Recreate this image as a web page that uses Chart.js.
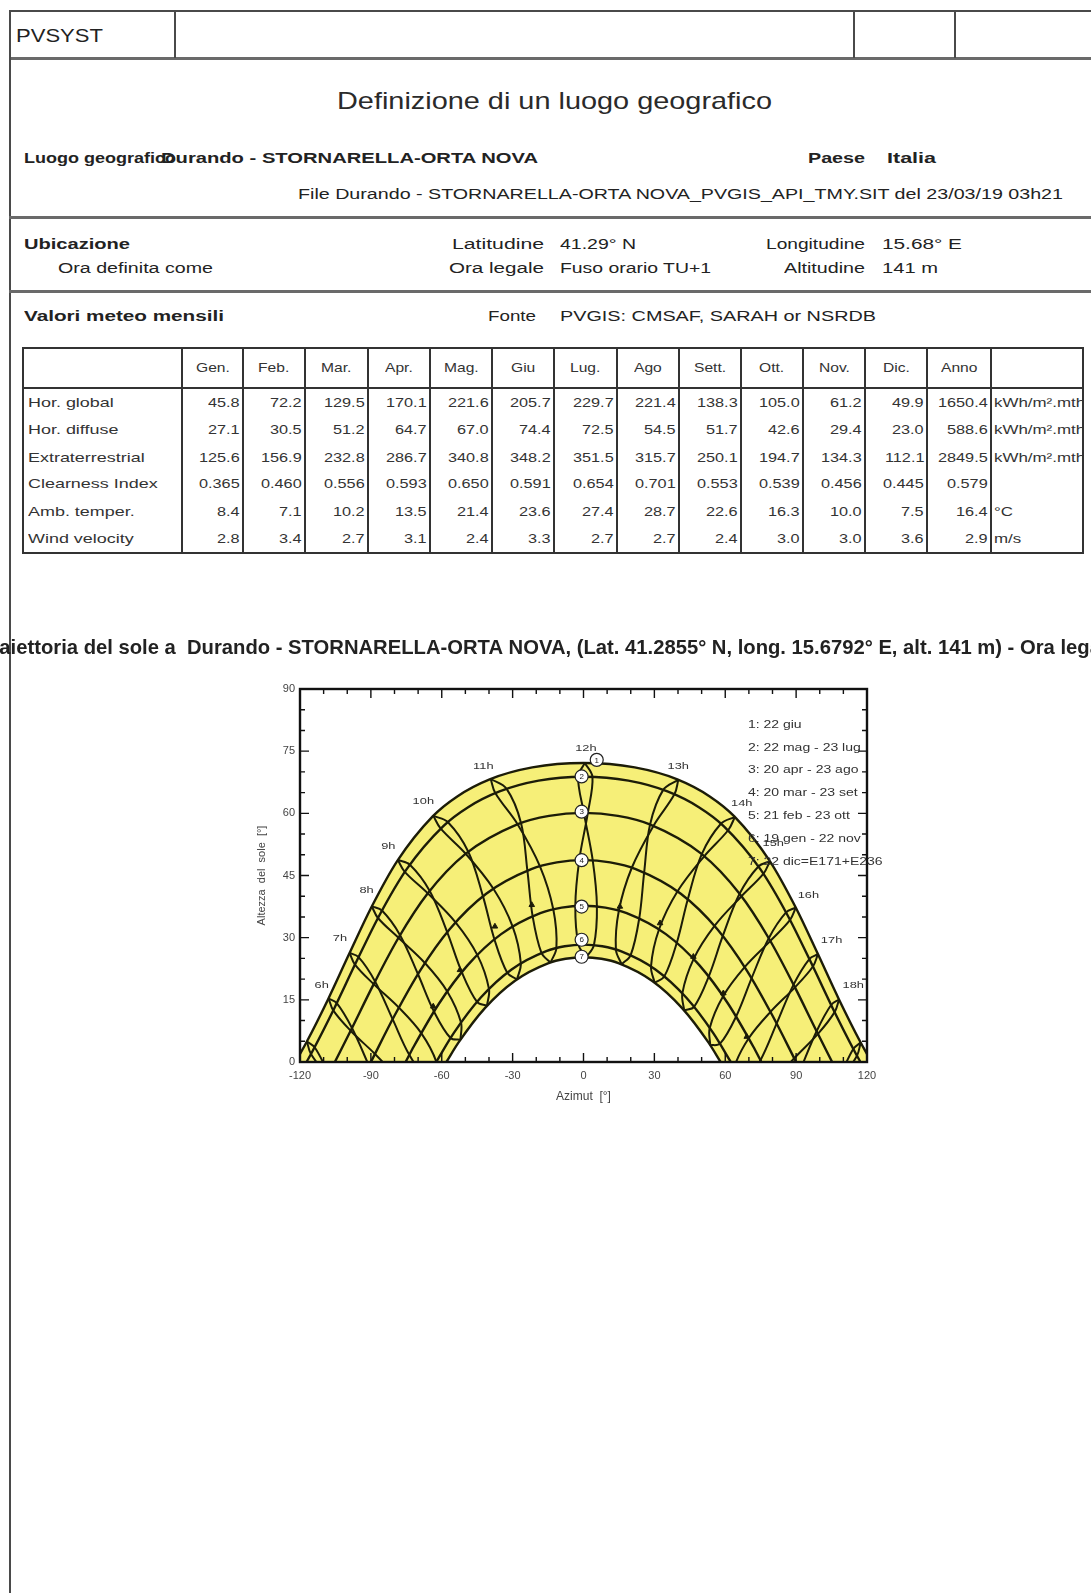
<!DOCTYPE html>
<html lang="it">
<head>
<meta charset="utf-8">
<title>PVSYST - Definizione di un luogo geografico</title>
<script src="https://cdn.jsdelivr.net/npm/chart.js@4.4.1/dist/chart.umd.min.js"></script>
<style>
  html, body { margin: 0; padding: 0; background: #fff; }
  body { width: 1091px; height: 1593px; position: relative; overflow: hidden;
         font-family: "Liberation Sans", Arial, sans-serif; color: #222; }
  .t { position: absolute; white-space: nowrap; line-height: 1; transform-origin: 0 50%; }
  .ln { position: absolute; }
  .clip { position: absolute; overflow: hidden; }
  #chartBox { position: absolute; left: -21px; top: 620px; width: 1140px; height: 500px; }
</style>
</head>
<body>
<div id="page"></div>
<div id="chartBox"><canvas id="solarChart" width="1140" height="500"></canvas></div>
<script>
// Valori meteo mensili
const mesi = ['Gen.', 'Feb.', 'Mar.', 'Apr.', 'Mag.', 'Giu', 'Lug.', 'Ago', 'Sett.', 'Ott.', 'Nov.', 'Dic.', 'Anno'];
const horGlobal = [45.8, 72.2, 129.5, 170.1, 221.6, 205.7, 229.7, 221.4, 138.3, 105.0, 61.2, 49.9, 1650.4];
const horDiffuse = [27.1, 30.5, 51.2, 64.7, 67.0, 74.4, 72.5, 54.5, 51.7, 42.6, 29.4, 23.0, 588.6];
const extraterrestrial = [125.6, 156.9, 232.8, 286.7, 340.8, 348.2, 351.5, 315.7, 250.1, 194.7, 134.3, 112.1, 2849.5];
const clearness = [0.365, 0.460, 0.556, 0.593, 0.650, 0.591, 0.654, 0.701, 0.553, 0.539, 0.456, 0.445, 0.579];
const ambTemper = [8.4, 7.1, 10.2, 13.5, 21.4, 23.6, 27.4, 28.7, 22.6, 16.3, 10.0, 7.5, 16.4];
const windVelocity = [2.8, 3.4, 2.7, 3.1, 2.4, 3.3, 2.7, 2.7, 2.4, 3.0, 3.0, 3.6, 2.9];

// Traiettoria del sole: archi giornalieri [azimut, altezza]
const arco1 = [[-121.9, 0], [-117.2, 4.82], [-108.04, 15.22], [-99.12, 26.16], [-89.73, 37.39], [-78.74, 48.59], [-63.84, 59.27], [-53.43, 64.09], [-39.71, 68.2], [-21.68, 71.08], [0, 72.16],
  [21.68, 71.08], [39.71, 68.2], [53.43, 64.09], [63.84, 59.27], [78.74, 48.59], [89.73, 37.39], [99.12, 26.16], [108.04, 15.22], [117.2, 4.82], [121.9, 0]];
const arco2 = [[-117.21, 0], [-114.78, 2.53], [-105.37, 13.11], [-96.16, 24.17], [-86.37, 35.42], [-74.84, 46.53], [-59.33, 56.92], [-48.83, 61.48], [-35.54, 65.28], [-19.0, 67.88], [0, 68.81],
  [19.0, 67.88], [35.54, 65.28], [48.83, 61.48], [59.33, 56.92], [74.84, 46.53], [86.37, 35.42], [96.16, 24.17], [105.37, 13.11], [114.78, 2.53], [117.21, 0]];
const arco3 = [[-105.25, 0], [-98.62, 7.49], [-88.86, 18.73], [-78.36, 29.92], [-65.98, 40.64], [-49.97, 50.21], [-28.05, 57.35], [-14.56, 59.4], [0, 60.11],
  [14.56, 59.4], [28.05, 57.35], [49.97, 50.21], [65.98, 40.64], [78.36, 29.92], [88.86, 18.73], [98.62, 7.49], [105.25, 0]];
const arco4 = [[-90, 0], [-79.97, 11.21], [-69.15, 22.07], [-56.58, 32.09], [-41.19, 40.6], [-22.1, 46.54], [-11.28, 48.16], [0, 48.71],
  [11.28, 48.16], [22.1, 46.54], [41.19, 40.6], [56.58, 32.09], [69.15, 22.07], [79.97, 11.21], [90, 0]];
const arco5 = [[-75.29, 0], [-71.84, 3.73], [-61.21, 14.06], [-49.1, 23.31], [-34.87, 30.86], [-18.28, 35.92], [-9.26, 37.26], [0, 37.71],
  [9.26, 37.26], [18.28, 35.92], [34.87, 30.86], [49.1, 23.31], [61.21, 14.06], [71.84, 3.73], [75.29, 0]];
const arco6 = [[-62.36, 0], [-54.87, 7.02], [-43.47, 15.55], [-30.44, 22.33], [-15.76, 26.76], [-7.96, 27.92], [0, 28.31],
  [7.96, 27.92], [15.76, 26.76], [30.44, 22.33], [43.47, 15.55], [54.87, 7.02], [62.36, 0]];
const arco7 = [[-58.04, 0], [-52.87, 4.72], [-41.74, 13.0], [-29.13, 19.55], [-15.04, 23.8], [-7.59, 24.9], [0, 25.27],
  [7.59, 24.9], [15.04, 23.8], [29.13, 19.55], [41.74, 13.0], [52.87, 4.72], [58.04, 0]];

// Posizione del sole alle ore legali 5h..19h per ciascuna data [azimut, altezza]
const ore = ['5h', '6h', '7h', '8h', '9h', '10h', '11h', '12h', '13h', '14h', '15h', '16h', '17h', '18h', '19h'];
const pos_22giu = [[-117.07, 4.95], [-107.92, 15.36], [-99.0, 26.31], [-89.59, 37.54], [-78.57, 48.74], [-63.58, 59.4], [-39.28, 68.29], [0.58, 72.16],
  [40.14, 68.11], [64.1, 59.14], [78.91, 48.44], [89.87, 37.24], [99.24, 26.01], [108.16, 15.08], [117.33, 4.69]];
const pos_22mag = [[-113.8, 3.55], [-104.44, 14.19], [-95.21, 25.29], [-85.3, 36.54], [-73.49, 47.61], [-57.36, 57.86], [-32.54, 65.91], [3.8, 68.77],
  [38.54, 64.65], [61.3, 55.98], [76.19, 45.45], [87.44, 34.3], [97.11, 23.05], [106.3, 12.03], [115.76, 1.51]];
const pos_23lug = [[-115.37, 1.92], [-105.93, 12.46], [-96.73, 23.5], [-87.01, 34.75], [-75.65, 45.88], [-60.51, 56.36], [-37.34, 64.9], [-2.28, 68.8],
  [33.74, 65.66], [58.15, 57.48], [74.03, 47.18], [85.73, 36.09], [95.59, 24.84], [104.81, 13.76], [114.19, 3.14]];
const pos_20apr = [[-107.82, -2.77], [-98.0, 8.19], [-88.22, 19.44], [-77.64, 30.61], [-65.08, 41.28], [-48.77, 50.74], [-26.45, 57.67], [1.84, 60.1],
  [29.65, 57.03], [51.17, 49.68], [66.88, 40.0], [79.08, 29.23], [89.5, 18.02], [99.24, 6.79], [109.08, -4.13]];
const pos_23ago = [[-108.4, -3.39], [-98.57, 7.55], [-88.81, 18.79], [-78.3, 29.97], [-65.9, 40.69], [-49.87, 50.25], [-27.92, 57.38], [0.16, 60.11],
  [28.18, 57.32], [50.07, 50.17], [66.06, 40.59], [78.42, 29.86], [88.91, 18.67], [98.67, 7.43], [108.5, -3.51]];
const pos_20mar = [null, [-90.8, -0.9], [-80.8, 10.33], [-70.09, 21.23], [-57.7, 31.35], [-42.57, 40.02], [-23.76, 46.21], [-1.8, 48.7],
  [20.44, 46.87], [39.81, 41.18], [55.46, 32.83], [68.21, 22.91], [79.14, 12.09], [89.2, 0.9], null];
const pos_23set = [null, [-88.26, 1.94], [-78.16, 13.12], [-67.12, 23.88], [-54.16, 33.7], [-38.2, 41.85], [-18.43, 47.22], [3.91, 48.64],
  [25.68, 45.75], [44.18, 39.35], [59.0, 30.48], [71.18, 20.26], [81.78, 9.3], [91.74, -1.94], null];
const pos_21feb = [null, null, [-73.75, 1.74], [-63.33, 12.23], [-51.56, 21.74], [-37.75, 29.68], [-21.54, 35.2], [-3.46, 37.65],
  [14.96, 36.51], [31.99, 32.04], [46.64, 24.88], [59.09, 15.89], [69.93, 5.72], [79.87, -5.16], null];
const pos_23ott = [null, [-78.71, -3.83], [-68.69, 6.98], [-57.68, 17.03], [-44.96, 25.85], [-30.03, 32.71], [-12.79, 36.84], [5.68, 37.54],
  [23.6, 34.68], [39.49, 28.77], [53.0, 20.62], [64.59, 10.98], [74.91, 0.42], null, null];
const pos_19gen = [null, null, [-66.29, -4.1], [-56.28, 5.78], [-45.07, 14.5], [-32.28, 21.55], [-17.8, 26.33], [-2.12, 28.28],
  [13.71, 27.15], [28.57, 23.07], [41.83, 16.56], [53.43, 8.23], [63.71, -1.38], null, null];
const pos_22nov = [null, null, [-62.3, 0.06], [-51.85, 9.52], [-40.01, 17.64], [-26.53, 23.82], [-11.47, 27.5], [4.4, 28.19],
  [19.97, 25.81], [34.22, 20.66], [46.79, 13.32], [57.79, 4.42], [67.65, -5.59], null, null];
const pos_22dic = [null, null, [-62.09, -4.09], [-52.1, 5.37], [-40.87, 13.55], [-28.14, 19.94], [-13.96, 24.0], [1.11, 25.26],
  [16.12, 23.57], [30.11, 19.14], [42.61, 12.45], [53.63, 4.05], [63.48, -5.56], null, null];

// etichette delle ore [testo, azimut, altezza]
const etichetteOre = [['6h', -110.8, 18.6], ['7h', -103.1, 29.8], ['8h', -91.8, 41.3], ['9h', -82.6, 52.0], ['10h', -67.8, 62.8], ['11h', -42.4, 71.4],
  ['12h', 1.0, 75.7], ['13h', 40.1, 71.4], ['14h', 67.0, 62.4], ['15h', 80.3, 52.8], ['16h', 95.2, 40.3], ['17h', 105.0, 29.4], ['18h', 114.2, 18.6]];
const legendaDate = ['1: 22 giu', '2: 22 mag - 23 lug', '3: 20 apr - 23 ago', '4: 20 mar - 23 set', '5: 21 feb - 23 ott', '6: 19 gen - 22 nov', '7: 22 dic=E171+E236'];
const cerchiMezzogiorno = [[5.6, 72.9], [-0.8, 68.9], [-0.8, 60.4], [-0.8, 48.7], [-0.8, 37.5], [-0.8, 29.5], [-0.8, 25.4]];
const frecce = [[-63.6, 13.4], [-52.3, 22.2], [-37.5, 32.7], [-21.9, 37.9], [15.4, 37.5], [32.4, 33.5], [46.5, 25.4], [59.2, 16.6], [69.1, 6.1]];

const titolo = 'Traiettoria del sole a  Durando - STORNARELLA-ORTA NOVA, (Lat. 41.2855° N, long. 15.6792° E, alt. 141 m) - Ora legale';

// ---------- pagina (intestazione e tabella) ----------
const page = document.getElementById('page');

function linea(x, y, w, h, col) {
  const d = document.createElement('div');
  d.className = 'ln';
  d.style.cssText = `left:${x}px;top:${y}px;width:${w}px;height:${h}px;background:${col || '#4a4a4a'}`;
  page.appendChild(d);
}

function scritta(str, x, y, size, o = {}) {
  const d = document.createElement('div');
  d.className = 't';
  d.textContent = str;
  d.style.fontSize = size + 'px';
  if (o.bold) d.style.fontWeight = 'bold';
  if (o.color) d.style.color = o.color;
  (o.parent || page).appendChild(d);
  const nat = d.getBoundingClientRect().width;
  const k = o.w ? o.w / nat : (o.k || 1);
  let left = x;
  if (o.align === 'right') left = x - nat * k;
  if (o.align === 'center') left = x - nat * k / 2;
  d.style.left = left + 'px';
  d.style.top = (y - size * 0.52) + 'px';
  d.style.transform = `scaleX(${k})`;
  return d;
}

// cornice del foglio
linea(9, 10, 1082, 2);
linea(9, 57, 1082, 3, '#6a6a6a');
linea(9, 10, 2, 1583);
[174, 853, 954].forEach(x => linea(x, 10, 2, 48));
linea(9, 216, 1082, 3, '#6a6a6a');
linea(9, 290, 1082, 3, '#6a6a6a');

scritta('PVSYST', 16, 36, 19, { w: 87 });
scritta('Definizione di un luogo geografico', 337, 101.5, 24, { w: 435, color: '#2a2a2a' });
scritta('Luogo geografico', 24, 158.5, 14, { bold: true, w: 152 });
scritta('Durando - STORNARELLA-ORTA NOVA', 161, 158.5, 14, { bold: true, w: 377 });
scritta('Paese', 808, 158.5, 14, { bold: true, w: 57 });
scritta('Italia', 887, 158.5, 14, { bold: true, w: 49 });
scritta('File Durando - STORNARELLA-ORTA NOVA_PVGIS_API_TMY.SIT del 23/03/19 03h21', 298, 194, 14, { w: 765 });
scritta('Ubicazione', 24, 244, 14, { bold: true, w: 106 });
scritta('Ora definita come', 58, 268.3, 14, { w: 155 });
scritta('Latitudine', 452, 244, 14, { w: 92 });
scritta('41.29° N', 560, 244, 14, { w: 76 });
scritta('Ora legale', 449, 268.3, 14, { w: 95 });
scritta('Fuso orario TU+1', 560, 268.3, 14, { w: 151 });
scritta('Longitudine', 766, 244, 14, { w: 99 });
scritta('15.68° E', 882, 244, 14, { w: 80 });
scritta('Altitudine', 784, 268.3, 14, { w: 81 });
scritta('141 m', 882, 268.3, 14, { w: 56 });
scritta('Valori meteo mensili', 24, 316, 14, { bold: true, w: 200 });
scritta('Fonte', 488, 316, 14, { w: 48 });
scritta('PVGIS: CMSAF, SARAH or NSRDB', 560, 316, 14, { w: 316 });

// tabella valori mensili
const colX = [23, 182, 243, 305, 368, 430, 492, 554, 617, 679, 741, 803, 865, 927, 991, 1083];
const rigaY = [403, 430, 458, 484, 512, 539];
const righe = [
  ['Hor. global', horGlobal, 1, 'kWh/m².mth'],
  ['Hor. diffuse', horDiffuse, 1, 'kWh/m².mth'],
  ['Extraterrestrial', extraterrestrial, 1, 'kWh/m².mth'],
  ['Clearness Index', clearness, 3, ''],
  ['Amb. temper.', ambTemper, 1, '°C'],
  ['Wind velocity', windVelocity, 1, 'm/s']
];
const TAB = '#333';
linea(22, 347, 1062, 2, TAB);
linea(22, 387, 1062, 2, TAB);
linea(22, 552, 1062, 2, TAB);
colX.forEach(x => linea(x - 1, 347, 2, 207, TAB));
mesi.forEach((m, i) => scritta(m, (colX[i + 1] + colX[i + 2]) / 2, 368, 13, { k: 1.2, align: 'center', color: '#333' }));
righe.forEach(([nome, valori, dec, unita], r) => {
  const y = rigaY[r];
  scritta(nome, 28, y, 13, { k: 1.38, color: '#333' });
  valori.forEach((v, i) => scritta(v.toFixed(dec), colX[i + 2] - 3, y, 13, { k: 1.25, align: 'right', color: '#333' }));
  if (unita) {
    const box = document.createElement('div');
    box.className = 'clip';
    box.style.cssText = `left:${colX[14] + 3}px;top:${y - 10}px;width:${colX[15] - colX[14] - 4}px;height:20px;`;
    page.appendChild(box);
    scritta(unita, 0, 10, 13, { k: 1.3, parent: box, color: '#333' });
  }
});

// ---------- grafico della traiettoria del sole ----------
Chart.defaults.font.family = '"Liberation Sans", Arial, sans-serif';
Chart.defaults.color = '#333';

const misura = document.createElement('canvas').getContext('2d');
misura.font = 'bold 10px "Liberation Sans"';
const titleSize = 10 * 1138 / misura.measureText(titolo).width;
const titleLH = titleSize * 1.2;
const titlePadTop = 28 - titleLH / 2;
const titlePadBottom = 69 - titlePadTop - titleLH;

const xy = p => ({ x: p[0], y: p[1] });
const LINEA = '#1c1c08';
const primoSemestre = [pos_22dic, pos_19gen, pos_21feb, pos_20mar, pos_20apr, pos_22mag, pos_22giu];
const secondoSemestre = [pos_22giu, pos_23lug, pos_23ago, pos_23set, pos_23ott, pos_22nov, pos_22dic];
const archi = [arco1, arco2, arco3, arco4, arco5, arco6, arco7];

const datasets = [
  { label: 'fondo', data: arco1.map(xy), borderWidth: 0, pointRadius: 0, fill: 'origin',
    backgroundColor: '#f6ef78', cubicInterpolationMode: 'monotone', order: 5 },
  { label: 'interno', data: arco7.map(xy), borderWidth: 0, pointRadius: 0, fill: 'origin',
    backgroundColor: '#ffffff', cubicInterpolationMode: 'monotone', order: 4 }
];
ore.forEach((h, i) => {
  [primoSemestre, secondoSemestre].forEach(semestre => {
    const pts = semestre.map(p => p[i]).filter(p => p);
    if (pts.length > 1) {
      datasets.push({ label: h, data: pts.map(xy), borderColor: LINEA, borderWidth: 2, tension: 0.35,
        capBezierPoints: false, pointRadius: 0, fill: false, order: 1 });
    }
  });
});
archi.forEach((a, i) => {
  datasets.push({ label: 'data ' + (i + 1), data: a.map(xy), borderColor: LINEA, borderWidth: 2.4,
    cubicInterpolationMode: 'monotone', capBezierPoints: false, pointRadius: 0, fill: false, order: 1 });
});
datasets.push({ label: 'frecce', data: frecce.map(xy), showLine: false, pointStyle: 'triangle', pointRadius: 3.2,
  pointBackgroundColor: LINEA, pointBorderColor: LINEA, pointBorderWidth: 1, order: 0 });
datasets.push({ label: 'mezzogiorno', data: cerchiMezzogiorno.map(xy), showLine: false, pointRadius: 6.5,
  pointBackgroundColor: '#ffffff', pointBorderColor: '#222', pointBorderWidth: 1.2, order: 0 });

function testoLargo(ctx, txt, px, py, k, align) {
  ctx.save();
  ctx.translate(px, py);
  ctx.scale(k, 1);
  ctx.textAlign = align;
  ctx.fillText(txt, 0, 0);
  ctx.restore();
}

const decorazioni = {
  id: 'decorazioni',
  afterDatasetsDraw(chart) {
    const { ctx, chartArea: a, scales: { x, y } } = chart;
    ctx.save();
    ctx.strokeStyle = '#111';
    // tacche interne sui quattro lati
    ctx.lineWidth = 1.4;
    ctx.beginPath();
    for (let v = -120; v <= 120; v += 10) {
      const px = x.getPixelForValue(v);
      const len = v % 30 === 0 ? 9 : 5;
      ctx.moveTo(px, a.bottom); ctx.lineTo(px, a.bottom - len);
      ctx.moveTo(px, a.top); ctx.lineTo(px, a.top + len);
    }
    for (let v = 0; v <= 90; v += 5) {
      const py = y.getPixelForValue(v);
      const len = v % 15 === 0 ? 9 : 5;
      ctx.moveTo(a.left, py); ctx.lineTo(a.left + len, py);
      ctx.moveTo(a.right, py); ctx.lineTo(a.right - len, py);
    }
    ctx.stroke();
    ctx.lineWidth = 2.4;
    ctx.strokeRect(a.left, a.top, a.right - a.left, a.bottom - a.top);

    ctx.fillStyle = '#222';
    ctx.textBaseline = 'middle';
    // numeri nei cerchi
    ctx.font = '8px "Liberation Sans", Arial';
    cerchiMezzogiorno.forEach((p, i) => testoLargo(ctx, String(i + 1), x.getPixelForValue(p[0]), y.getPixelForValue(p[1]) + 0.5, 1, 'center'));
    // etichette delle ore
    ctx.fillStyle = '#333';
    ctx.font = '9.5px "Liberation Sans", Arial';
    etichetteOre.forEach(([t, az, el]) => testoLargo(ctx, t, x.getPixelForValue(az), y.getPixelForValue(el), 1.35, 'center'));
    // legenda delle date
    ctx.font = '10px "Liberation Sans", Arial';
    const lx = x.getPixelForValue(69.6);
    let ly = y.getPixelForValue(81.3);
    legendaDate.forEach(t => { testoLargo(ctx, t, lx, ly, 1.4, 'left'); ly += 22.8; });
    ctx.restore();
  }
};

new Chart(document.getElementById('solarChart'), {
  type: 'line',
  data: { datasets },
  options: {
    responsive: false,
    animation: false,
    events: [],
    layout: { padding: 0 },
    plugins: {
      legend: { display: false },
      tooltip: { enabled: false },
      title: {
        display: true, text: titolo, color: '#222',
        font: { size: titleSize, weight: 'bold' },
        padding: { top: titlePadTop, bottom: titlePadBottom }
      }
    },
    scales: {
      x: {
        type: 'linear', min: -120, max: 120,
        ticks: { stepSize: 30, padding: 7, font: { size: 11 }, color: '#444' },
        grid: { display: false, drawTicks: false },
        border: { display: false },
        title: { display: true, text: 'Azimut  [°]', font: { size: 12 }, color: '#444', padding: { top: 0, bottom: 16 } },
        afterFit: s => { s.height = 58; }
      },
      y: {
        min: 0, max: 90,
        ticks: { stepSize: 15, padding: 5, font: { size: 11 }, color: '#444' },
        grid: { display: false, drawTicks: false },
        border: { display: false },
        title: { display: true, text: 'Altezza  del  sole  [°]', font: { size: 11 }, color: '#444', padding: { top: 276, bottom: 0 } },
        afterFit: s => { s.width = 321; }
      },
      y2: {
        position: 'right', min: 0, max: 90,
        ticks: { display: false },
        grid: { display: false, drawTicks: false },
        border: { display: false },
        afterFit: s => { s.width = 252; }
      }
    }
  },
  plugins: [decorazioni]
});
</script>
</body>
</html>
